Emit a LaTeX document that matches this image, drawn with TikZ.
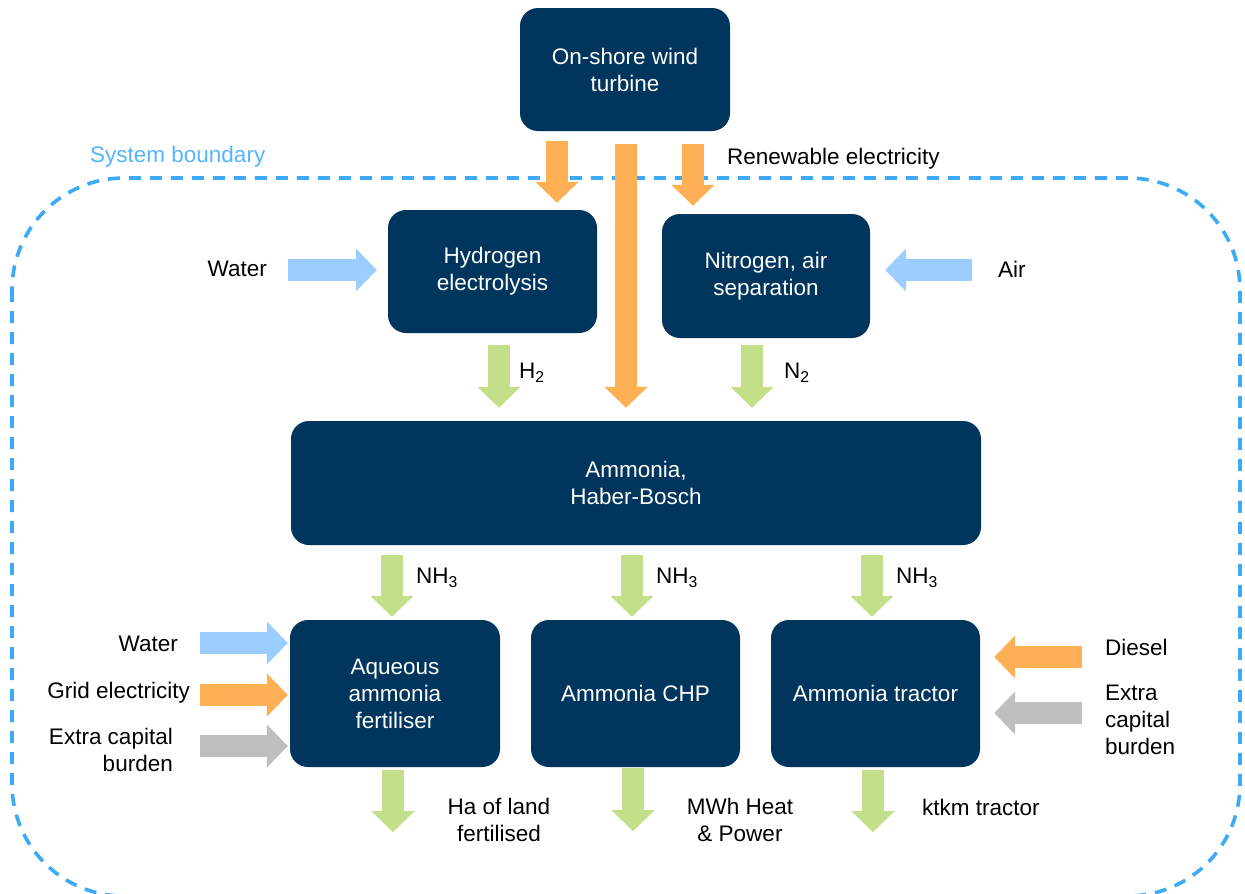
\documentclass[tikz,border=0pt]{standalone}
\usepackage{fontspec}
\setmainfont{Liberation Sans}
\usetikzlibrary{arrows.meta,calc}
\definecolor{navy}{HTML}{00355E}
\definecolor{korange}{HTML}{FFB055}
\definecolor{kgreen}{HTML}{C3DF8A}
\definecolor{kblue}{HTML}{9BCDFF}
\definecolor{kgrey}{HTML}{BFBFBF}
\definecolor{bound}{HTML}{3DAAF7}
\definecolor{boundtext}{HTML}{55B4FF}
\tikzset{
  box/.style={fill=navy, draw=none, rounded corners=18pt, text=white, align=center,
    font=\fontsize{22.5}{27}\selectfont, inner sep=0pt},
  blk/.style={line width=22pt, -{Triangle[width=42pt,length=21pt]}},
  oarrow/.style={blk, draw=korange},
  garrow/.style={blk, draw=kgreen},
  barrow/.style={blk, draw=kblue},
  grarrow/.style={blk, draw=kgrey},
  lbl/.style={font=\fontsize{22.5}{27}\selectfont, inner sep=0pt, text=black},
}
\begin{document}
\begin{tikzpicture}[x=1pt,y=-1pt]
\useasboundingbox (0,0) rectangle (1245,894);
\clip (0,0) rectangle (1245,894);

% system boundary
\draw[bound, line width=3.6pt, dash pattern=on 12pt off 9pt, rounded corners=112pt]
  (12,178) rectangle (1240,896);
\node[lbl, anchor=west, text=boundtext] (sb) at (90,157) {System boundary};

% boxes
\node[box, minimum width=210pt, minimum height=123pt] (wind) at (625,69.5) {On-shore wind\\turbine};
\node[box, minimum width=209pt, minimum height=123pt] (h2) at (492.5,271.5) {Hydrogen\\electrolysis};
\node[box, minimum width=208pt, minimum height=124pt] (n2) at (766,276) {Nitrogen, air\\separation};
\node[box, minimum width=690pt, minimum height=124pt] (hb) at (636,483) {Ammonia,\\Haber-Bosch};
\node[box, minimum width=210pt, minimum height=147pt] (aq) at (395,693.5) {Aqueous\\ammonia\\fertiliser};
\node[box, minimum width=209pt, minimum height=147pt] (chp) at (635.5,693.5) {Ammonia CHP};
\node[box, minimum width=209pt, minimum height=147pt] (tr) at (875.5,693.5) {Ammonia tractor};

% renewable electricity arrows
\draw[oarrow] ($(wind.south)+(-68,10)$) -- ($(h2.north)+(64.5,-7)$);
\draw[oarrow] ($(wind.south)+(1,13)$) -- ($(hb.north)+(-10,-13)$);
\draw[oarrow] ($(wind.south)+(68,13)$) -- ($(n2.north)+(-73,-8)$);
\node[lbl, anchor=west] (re) at (727,159) {Renewable electricity};

% water / air
\draw[barrow] ($(h2.west)+(-100,-1.5)$) -- ($(h2.west)+(-11,-1.5)$);
\node[lbl, anchor=east] (w1) at (267,269) {Water};
\draw[barrow] ($(n2.east)+(102,-6)$) -- ($(n2.east)+(15,-6)$);
\node[lbl, anchor=west] (air) at (998,269) {Air};

% H2, N2
\draw[garrow] ($(h2.south)+(6.5,12)$) -- ($(hb.north)+(-137,-13)$);
\node[lbl, anchor=west] (lh2) at (519,373) {H\textsubscript{2}};
\draw[garrow] ($(n2.south)+(-14,7)$) -- ($(hb.north)+(116,-13)$);
\node[lbl, anchor=west] (ln2) at (784,373) {N\textsubscript{2}};

% NH3
\draw[garrow] ($(hb.south)+(-244,10)$) -- ($(aq.north)+(-3,-3)$);
\draw[garrow] ($(hb.south)+(-4,10)$) -- ($(chp.north)+(-3.5,-3)$);
\draw[garrow] ($(hb.south)+(236,10)$) -- ($(tr.north)+(-3.5,-3)$);
\node[lbl, anchor=west] (n1) at (416,578) {NH\textsubscript{3}};
\node[lbl, anchor=west] (n2l) at (656,578) {NH\textsubscript{3}};
\node[lbl, anchor=west] (n3) at (896,578) {NH\textsubscript{3}};

% inputs left
\draw[barrow] ($(aq.west)+(-90,-50.5)$) -- ($(aq.west)+(-2,-50.5)$);
\draw[oarrow] ($(aq.west)+(-90,1.5)$) -- ($(aq.west)+(-2,1.5)$);
\draw[grarrow] ($(aq.west)+(-90,52.5)$) -- ($(aq.west)+(-2,52.5)$);
\node[lbl, anchor=east] (w2) at (178,644) {Water};
\node[lbl, anchor=east] (ge) at (190,693) {Grid electricity};
\node[lbl, anchor=east, align=right] (ecb1) at (173,750) {Extra capital\\burden};

% inputs right
\draw[oarrow] ($(tr.east)+(102,-36.5)$) -- ($(tr.east)+(14,-36.5)$);
\draw[grarrow] ($(tr.east)+(102,19.5)$) -- ($(tr.east)+(14,19.5)$);
\node[lbl, anchor=west] (ds) at (1105,647) {Diesel};
\node[lbl, anchor=west, align=left] (ecb2) at (1105,720) {Extra\\capital\\burden};

% outputs
\draw[garrow] ($(aq.south)+(-2,3)$) coordinate (o1) -- ($(o1)+(0,62)$);
\draw[garrow] ($(chp.south)+(-2.5,1)$) coordinate (o2) -- ($(o2)+(0,63)$);
\draw[garrow] ($(tr.south)+(-2.5,3)$) coordinate (o3) -- ($(o3)+(0,62)$);
\node[lbl, align=center] (out1) at (499,820) {Ha of land\\fertilised};
\node[lbl, align=center] (out2) at (740,820) {MWh Heat\\\& Power};
\node[lbl, anchor=west] (out3) at (922,807) {ktkm tractor};
\end{tikzpicture}
\end{document}
